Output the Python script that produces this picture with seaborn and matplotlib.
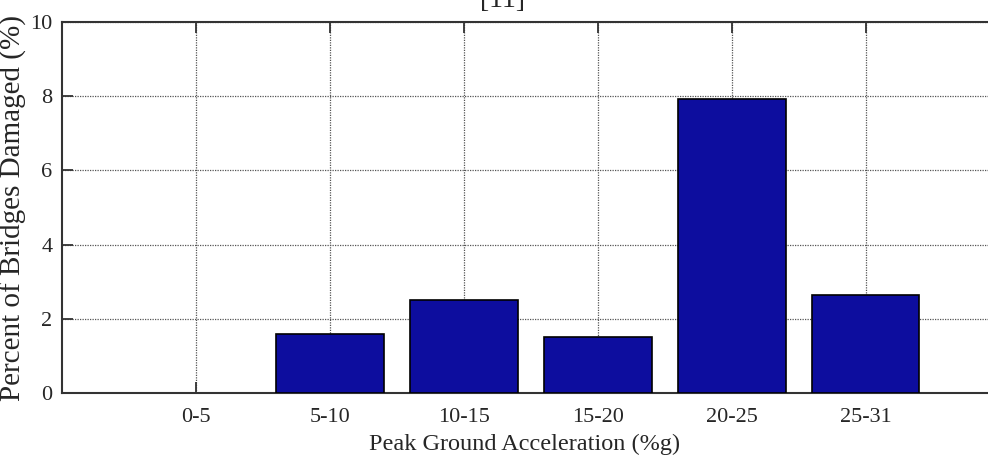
"""Percent of bridges damaged by peak ground acceleration bin."""

import matplotlib

matplotlib.use("Agg")
import matplotlib.pyplot as plt
import pandas as pd
import seaborn as sns

PGA_BINS = ["0-5", "5-10", "10-15", "15-20", "20-25", "25-31"]
PERCENT_DAMAGED = [0.0, 1.59, 2.5, 1.52, 7.92, 2.64]
Y_TICKS = [0, 2, 4, 6, 8, 10]

BAR_COLOR = "#0d0d9e"
FONT = ["Liberation Serif", "DejaVu Serif"]


def main() -> None:
    data = pd.DataFrame({"pga": PGA_BINS, "percent": PERCENT_DAMAGED})

    sns.set_style("white")
    plt.rcParams["font.family"] = FONT

    fig = plt.figure(figsize=(9.88, 4.66), dpi=100)
    ax = fig.add_axes([0.0628, 0.1567, 0.937, 0.796])

    sns.barplot(
        data=data,
        x="pga",
        y="percent",
        color=BAR_COLOR,
        saturation=1,
        width=0.8,
        edgecolor="black",
        linewidth=1.2,
        ax=ax,
        zorder=3,
    )
    # an empty bin draws nothing in the original
    for patch in ax.patches:
        if patch.get_height() == 0:
            patch.set_visible(False)

    ax.set_xlim(-1, 5.91)
    ax.set_ylim(0, 10)
    ax.set_yticks(Y_TICKS)
    ax.set_yticklabels([str(t) for t in Y_TICKS])

    ax.grid(True, linestyle=(0, (1, 1)), color="#555555", linewidth=0.9, zorder=0)
    ax.set_axisbelow(True)

    for side in ["left", "top", "bottom"]:
        ax.spines[side].set_visible(True)
        ax.spines[side].set_color("#333333")
        ax.spines[side].set_linewidth(1.5)
    ax.spines["right"].set_visible(False)

    ax.tick_params(
        axis="both",
        direction="in",
        length=8,
        width=1.3,
        color="#333333",
        labelsize=16,
        top=True,
        bottom=True,
        left=True,
    )
    ax.tick_params(axis="x", pad=11)
    ax.tick_params(axis="y", pad=7)

    ax.set_xlabel("Peak Ground Acceleration (%g)", fontsize=17.5, labelpad=5)
    ax.set_ylabel("Percent of Bridges Damaged (%)", fontsize=21, labelpad=2)

    fig.text(0.509, 0.998, "[11]", ha="center", va="center", fontsize=20)

    fig.savefig("out.png", dpi=100)
    plt.close(fig)


if __name__ == "__main__":
    main()
